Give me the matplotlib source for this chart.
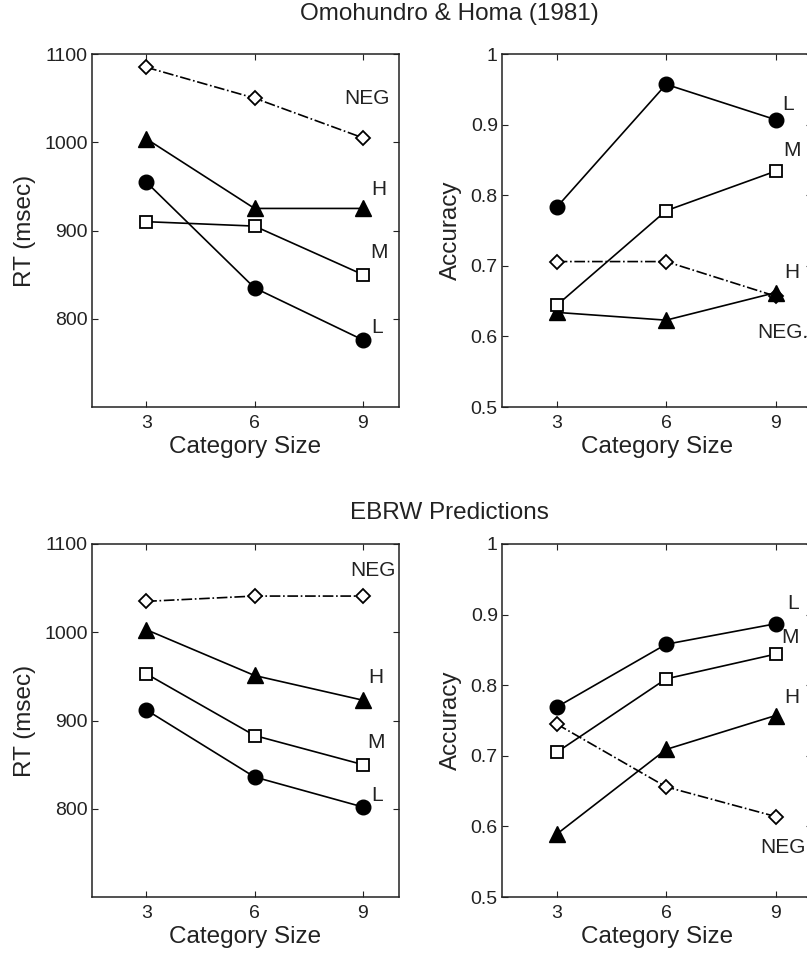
import matplotlib
matplotlib.use('Agg')
import matplotlib.pyplot as plt

plt.rcParams['font.family'] = ['Liberation Sans', 'DejaVu Sans']

# ── data ──────────────────────────────────────────────────────────────────────
cat_size = [3, 6, 9]

# Omohundro & Homa (1981) observed
obs_rt_neg = [1085, 1050, 1005]
obs_rt_h   = [1004, 925, 925]
obs_rt_m   = [910, 905, 850]
obs_rt_l   = [955, 835, 776]

obs_acc_l   = [0.783, 0.957, 0.907]
obs_acc_m   = [0.644, 0.778, 0.834]
obs_acc_neg = [0.706, 0.706, 0.657]
obs_acc_h   = [0.634, 0.623, 0.662]

# EBRW predictions
pred_rt_neg = [1035, 1041, 1041]
pred_rt_h   = [1003, 951, 923]
pred_rt_m   = [953, 883, 850]
pred_rt_l   = [912, 836, 802]

pred_acc_l   = [0.769, 0.858, 0.887]
pred_acc_m   = [0.705, 0.809, 0.844]
pred_acc_h   = [0.589, 0.709, 0.757]
pred_acc_neg = [0.745, 0.656, 0.614]

# ── styles ────────────────────────────────────────────────────────────────────
STY = {
    'L':   dict(marker='o', ms=10.5, mfc='k', mec='k', ls='-'),
    'M':   dict(marker='s', ms=8, mfc='white', mec='k', mew=1.3, ls='-'),
    'H':   dict(marker='^', ms=11.5, mfc='k', mec='k', ls='-'),
    'NEG': dict(marker='D', ms=7.5, mfc='white', mec='k', mew=1.3, ls='-.'),
}
INK = '#222222'

W, H = 807, 956
fig = plt.figure(figsize=(W / 100, H / 100), dpi=100)

def ax_at(x0, y0, x1, y1):
    return fig.add_axes([x0 / W, 1 - y1 / H, (x1 - x0) / W, (y1 - y0) / H])

def style(ax, ylim, yticks, yticklabels, ylabel):
    ax.set_xlim(1.5, 10)
    ax.set_ylim(*ylim)
    ax.set_xticks(cat_size)
    ax.set_yticks(yticks)
    ax.set_yticklabels(yticklabels)
    ax.tick_params(direction='in', top=True, right=True, length=4, pad=3,
                   width=0.8, labelsize=14, color=INK, labelcolor=INK)
    ax.tick_params(axis='x', pad=6)
    for sp in ax.spines.values():
        sp.set_linewidth(1.1); sp.set_color(INK)
    ax.set_xlabel('Category Size', fontsize=17.5, labelpad=3, color=INK)
    ax.set_ylabel(ylabel, fontsize=17.5, labelpad=6, color=INK)

def draw(ax, series, labels):
    for key, vals in series:
        ax.plot(cat_size, vals, color='k', lw=1.2, **STY[key])
    for txt, x, y in labels:
        ax.text(x, y, txt, fontsize=15, ha='center', va='center', color=INK)

rt_ticks = [800, 900, 1000, 1100]
acc_ticks = [0.5, 0.6, 0.7, 0.8, 0.9, 1.0]
acc_lbls = ['0.5', '0.6', '0.7', '0.8', '0.9', '1']

# top-left: observed RT
ax1 = ax_at(92, 54, 399, 407)
draw(ax1, [('NEG', obs_rt_neg), ('H', obs_rt_h), ('M', obs_rt_m), ('L', obs_rt_l)],
     [('NEG', 9.1, 1050), ('H', 9.45, 947), ('M', 9.45, 875), ('L', 9.4, 790)])
style(ax1, (700, 1100), rt_ticks, [str(t) for t in rt_ticks], 'RT (msec)')

# top-right: observed accuracy
ax2 = ax_at(502, 54, 812, 407)
draw(ax2, [('NEG', obs_acc_neg), ('H', obs_acc_h), ('M', obs_acc_m), ('L', obs_acc_l)],
     [('L', 9.35, 0.928), ('M', 9.45, 0.864), ('H', 9.45, 0.691), ('NEG.', 9.2, 0.606)])
style(ax2, (0.5, 1.0), acc_ticks, acc_lbls, 'Accuracy')

# bottom-left: predicted RT
ax3 = ax_at(92, 544, 399, 897)
draw(ax3, [('NEG', pred_rt_neg), ('H', pred_rt_h), ('M', pred_rt_m), ('L', pred_rt_l)],
     [('NEG', 9.27, 1070), ('H', 9.36, 949), ('M', 9.36, 875), ('L', 9.4, 815)])
style(ax3, (700, 1100), rt_ticks, [str(t) for t in rt_ticks], 'RT (msec)')

# bottom-right: predicted accuracy
ax4 = ax_at(502, 544, 812, 897)
draw(ax4, [('NEG', pred_acc_neg), ('H', pred_acc_h), ('M', pred_acc_m), ('L', pred_acc_l)],
     [('L', 9.48, 0.916), ('M', 9.4, 0.868), ('H', 9.45, 0.782), ('NEG', 9.2, 0.57)])
style(ax4, (0.5, 1.0), acc_ticks, acc_lbls, 'Accuracy')

fig.text(449 / W, 1 - 14 / H, 'Omohundro & Homa (1981)', ha='center', va='center',
         fontsize=17.5, color=INK)
fig.text(449 / W, 1 - 513 / H, 'EBRW Predictions', ha='center', va='center',
         fontsize=17.5, color=INK)

fig.savefig('out.png', dpi=100)
